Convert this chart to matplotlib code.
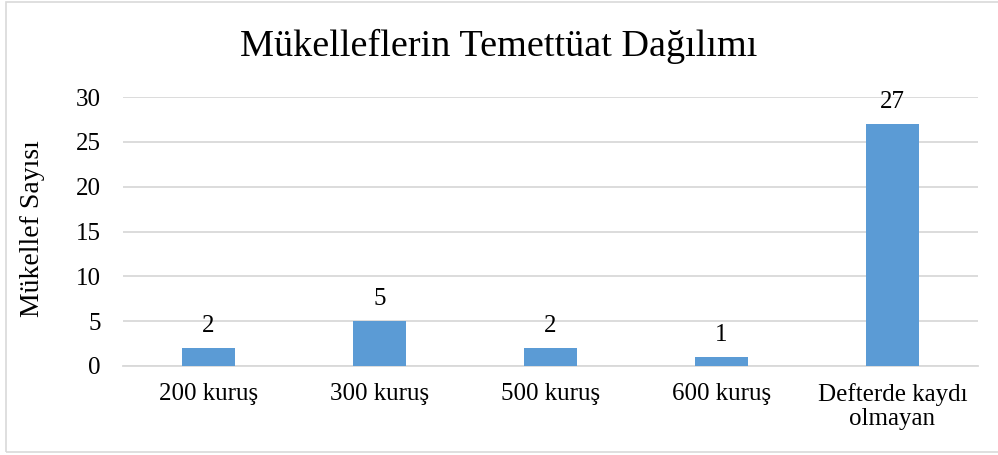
import numpy as np
import matplotlib.pyplot as plt
from matplotlib.patches import Rectangle

plt.rcParams['font.family'] = ['Liberation Serif', 'DejaVu Serif']

categories = ['200 kuruş', '300 kuruş', '500 kuruş', '600 kuruş', 'Defterde kaydı\nolmayan']
counts = [2, 5, 2, 1, 27]
yticks = [0, 5, 10, 15, 20, 25, 30]

fig = plt.figure(figsize=(9.98, 4.55), dpi=100)
ax = fig.add_axes([123 / 998, 1 - 366 / 455, (978 - 123) / 998, (366 - 97) / 455])

x = np.arange(len(categories))
ax.bar(x, counts, width=0.31, color='#5B9BD5', zorder=3)
for xi, c in zip(x, counts):
    ax.annotate(str(c), xy=(xi, c), xytext=(0, 16), textcoords='offset points',
                ha='center', va='center', fontsize=18)

ax.set_xlim(-0.5, len(categories) - 0.5)
ax.set_ylim(0, 30)
ax.set_yticks(yticks)
ax.set_xticks(x)
ax.set_xticklabels(categories, fontsize=18, linespacing=1.15)
ax.tick_params(axis='y', labelsize=18, length=0, pad=16)
ax.tick_params(axis='x', length=0, pad=12)
ax.grid(axis='y', color='#D9D9D9', linewidth=1.3, zorder=0)
for s in ['left', 'right', 'top']:
    ax.spines[s].set_visible(False)
ax.spines['bottom'].set_color('#D9D9D9')
ax.spines['bottom'].set_linewidth(1.3)

ax.set_ylabel('Mükellef Sayısı', fontsize=20)
ax.yaxis.set_label_coords(-0.0915, 0.51)
fig.text(0.5, 1 - 46 / 455, 'Mükelleflerin Temettüat Dağılımı', ha='center', va='center', fontsize=27.5)

# chart border (right edge falls outside the image)
fig.patches.append(Rectangle((6 / 998, 1 - 452 / 455), 1.0, (452 - 1.5) / 455,
                             transform=fig.transFigure, fill=False, edgecolor='#D9D9D9', linewidth=1.2))

fig.savefig('out.png', dpi=100)
